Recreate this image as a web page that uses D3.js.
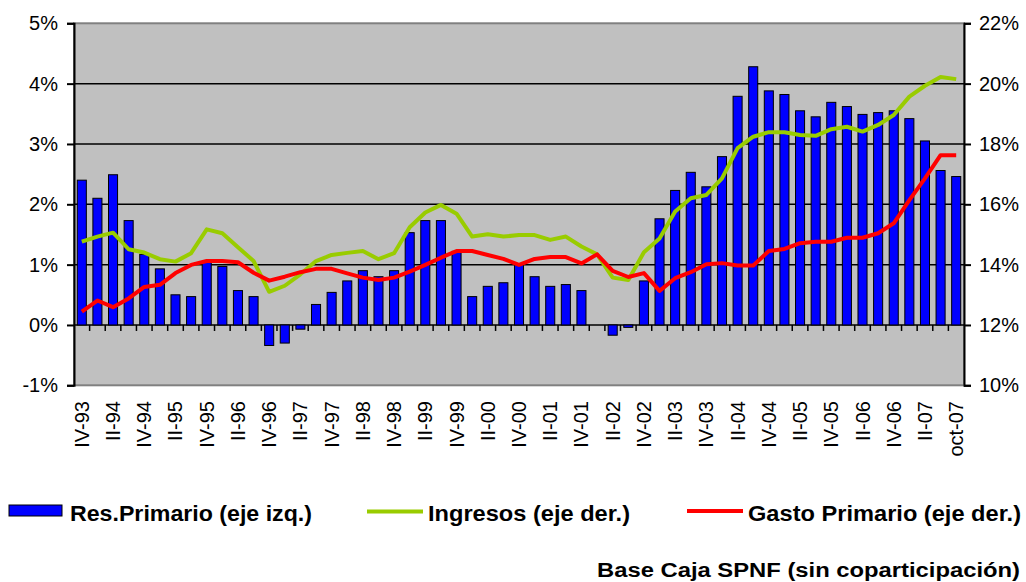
<!DOCTYPE html>
<html>
<head>
<meta charset="utf-8">
<script src="https://cdn.jsdelivr.net/npm/d3@7"></script>
<style>
  body { margin: 0; background: #fff; }
  text { font-family: "Liberation Sans", Arial, sans-serif; }
</style>
</head>
<body>
<div id="chart"></div>
<script>
const quarters = ["IV-93","I-94","II-94","III-94","IV-94","I-95","II-95","III-95","IV-95","I-96","II-96","III-96",
  "IV-96","I-97","II-97","III-97","IV-97","I-98","II-98","III-98","IV-98","I-99","II-99","III-99",
  "IV-99","I-00","II-00","III-00","IV-00","I-01","II-01","III-01","IV-01","I-02","II-02","III-02",
  "IV-02","I-03","II-03","III-03","IV-03","I-04","II-04","III-04","IV-04","I-05","II-05","III-05",
  "IV-05","I-06","II-06","III-06","IV-06","I-07","II-07","III-07","oct-07"];
const resPrimario = [2.40,2.10,2.49,1.73,1.17,0.93,0.50,0.47,1.05,0.97,0.57,0.47,
  -0.34,-0.30,-0.07,0.34,0.54,0.73,0.90,0.80,0.90,1.53,1.73,1.73,
  1.22,0.47,0.64,0.70,1.00,0.80,0.64,0.67,0.57,0.00,-0.17,-0.04,
  0.73,1.76,2.23,2.53,2.29,2.79,3.79,4.28,3.88,3.82,3.55,3.45,
  3.69,3.62,3.49,3.52,3.55,3.42,3.05,2.56,2.46];
const ingresos = [14.76,14.93,15.06,14.51,14.40,14.18,14.10,14.38,15.17,15.04,14.58,14.12,
  13.10,13.30,13.68,14.12,14.32,14.39,14.45,14.18,14.38,15.24,15.73,15.98,
  15.69,14.93,15.01,14.93,14.98,14.98,14.82,14.93,14.60,14.34,13.57,13.49,
  14.41,14.87,15.76,16.20,16.31,16.86,17.86,18.24,18.39,18.39,18.30,18.27,
  18.49,18.57,18.41,18.63,18.96,19.57,19.93,20.22,20.15];
const gastoPrimario = [12.44,12.81,12.59,12.88,13.26,13.33,13.72,13.99,14.12,14.12,14.08,13.73,
  13.47,13.60,13.75,13.86,13.86,13.71,13.57,13.49,13.57,13.77,13.99,14.23,
  14.45,14.45,14.32,14.19,13.99,14.19,14.25,14.25,14.04,14.34,13.79,13.59,
  13.72,13.13,13.55,13.75,14.01,14.05,13.97,13.97,14.45,14.52,14.71,14.76,
  14.76,14.89,14.89,15.04,15.37,16.14,16.86,17.63,17.63];
const leftTicks = [-1, 0, 1, 2, 3, 4, 5];
const rightTicks = [10, 12, 14, 16, 18, 20, 22];

const width = 1026, height = 582;
const plot = { left: 74, right: 964, top: 23.3, bottom: 385.3 };

const svg = d3.select("#chart").append("svg")
  .attr("width", width).attr("height", height);

// scales
const x = d3.scaleBand().domain(quarters)
  .range([plot.left, plot.right])
  .paddingInner(0.42).paddingOuter(0.21);
const yL = d3.scaleLinear().domain([-1, 5]).range([plot.bottom, plot.top]);
const yR = d3.scaleLinear().domain([10, 22]).range([plot.bottom, plot.top]);
const cx = d => x(d) + x.bandwidth() / 2;

// plot background
svg.append("rect")
  .attr("x", plot.left).attr("y", plot.top)
  .attr("width", plot.right - plot.left).attr("height", plot.bottom - plot.top)
  .attr("fill", "#c0c0c0").attr("stroke", "#808080").attr("stroke-width", 2);

// gridlines
svg.selectAll(".grid").data(leftTicks.slice(1, -1)).enter()
  .append("line")
  .attr("x1", plot.left).attr("x2", plot.right)
  .attr("y1", d => yL(d)).attr("y2", d => yL(d))
  .attr("stroke", "#000").attr("stroke-width", 1.5);

// bars
svg.selectAll(".bar").data(resPrimario).enter()
  .append("rect")
  .attr("x", (d, i) => x(quarters[i]))
  .attr("y", d => yL(Math.max(0, d)))
  .attr("width", x.bandwidth())
  .attr("height", d => Math.abs(yL(d) - yL(0)))
  .attr("fill", "#0000ff").attr("stroke", "#000").attr("stroke-width", 1);

// category ticks on the zero line
const gap = (x.step() - x.bandwidth()) / 2;
svg.selectAll(".ctick").data(quarters.slice(1)).enter()
  .append("line")
  .attr("x1", d => x(d) - gap).attr("x2", d => x(d) - gap)
  .attr("y1", yL(0)).attr("y2", yL(0) + 6)
  .attr("stroke", "#000").attr("stroke-width", 1.5);

// lines
const lineR = d3.line().x((d, i) => cx(quarters[i])).y(d => yR(d));
svg.append("path").attr("d", lineR(ingresos))
  .attr("fill", "none").attr("stroke", "#99cc00").attr("stroke-width", 4)
  .attr("stroke-linejoin", "round");
svg.append("path").attr("d", lineR(gastoPrimario))
  .attr("fill", "none").attr("stroke", "#ff0000").attr("stroke-width", 4)
  .attr("stroke-linejoin", "round");

// axes
const leftAxis = svg.append("g")
  .attr("transform", "translate(" + plot.left + ",0)")
  .call(d3.axisLeft(yL).tickValues(leftTicks).tickFormat(d => d + "%").tickSize(7).tickPadding(9));
const rightAxis = svg.append("g")
  .attr("transform", "translate(" + plot.right + ",0)")
  .call(d3.axisRight(yR).tickValues(rightTicks).tickFormat(d => d + "%").tickSize(7).tickPadding(8));
[leftAxis, rightAxis].forEach(a => {
  a.select(".domain").attr("stroke", "#000").attr("stroke-width", 2);
  a.selectAll(".tick line").attr("stroke", "#000").attr("stroke-width", 2);
  a.selectAll(".tick text").attr("fill", "#000")
    .style("font-size", "20px").style("font-family", "'Liberation Sans', Arial, sans-serif");
});

// category labels
svg.selectAll(".clabel").data(quarters.filter((d, i) => i % 2 === 0)).enter()
  .append("text")
  .attr("transform", d => "translate(" + cx(d) + ",401) rotate(-90)")
  .attr("text-anchor", "end").attr("dy", "0.35em")
  .style("font-size", "20px")
  .text(d => d);

// legend
const legend = svg.append("g").style("font-weight", "bold").style("font-size", "22px");
legend.append("rect").attr("x", 9).attr("y", 505).attr("width", 53).attr("height", 11)
  .attr("fill", "#0000ff").attr("stroke", "#000").attr("stroke-width", 1);
legend.append("text").attr("x", 70).attr("y", 521)
  .attr("textLength", 242).attr("lengthAdjust", "spacingAndGlyphs")
  .text("Res.Primario (eje izq.)");
legend.append("line").attr("x1", 367).attr("x2", 423).attr("y1", 511.5).attr("y2", 511.5)
  .attr("stroke", "#99cc00").attr("stroke-width", 4);
legend.append("text").attr("x", 428).attr("y", 521)
  .attr("textLength", 202).attr("lengthAdjust", "spacingAndGlyphs")
  .text("Ingresos (eje der.)");
legend.append("line").attr("x1", 687).attr("x2", 743).attr("y1", 511).attr("y2", 511)
  .attr("stroke", "#ff0000").attr("stroke-width", 4);
legend.append("text").attr("x", 748).attr("y", 521)
  .attr("textLength", 273).attr("lengthAdjust", "spacingAndGlyphs")
  .text("Gasto Primario (eje der.)");

// footnote
svg.append("text").attr("x", 597).attr("y", 577)
  .style("font-weight", "bold").style("font-size", "20px")
  .attr("textLength", 423).attr("lengthAdjust", "spacingAndGlyphs")
  .text("Base Caja SPNF (sin coparticipación)");
</script>
</body>
</html>
